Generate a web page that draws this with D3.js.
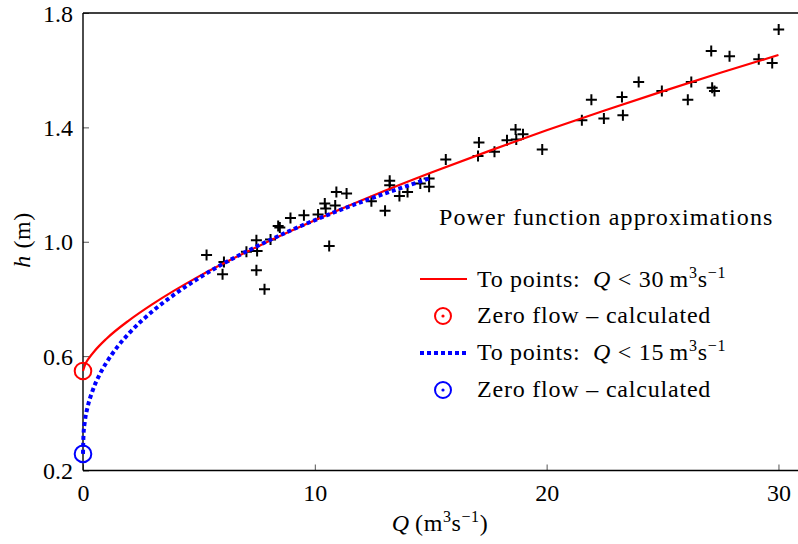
<!DOCTYPE html>
<html>
<head>
<meta charset="utf-8">
<script src="https://cdn.jsdelivr.net/npm/d3@7"></script>
<style>
  html, body { margin: 0; padding: 0; background: #fff; }
  svg { display: block; }
</style>
</head>
<body>
<svg id="chart" width="798" height="544"></svg>
<script>
// ---- data ----
const flowQ = [5.33, 6.02, 6.08, 7.05, 7.48, 7.51, 7.48, 7.83, 8.09, 8.42, 8.49, 8.95, 9.53, 10.14, 10.43, 10.47, 10.88, 10.62, 10.93, 11.37,
  12.44, 13.03, 13.23, 13.23, 13.65, 14.0, 14.55, 14.93, 14.93, 15.65, 17.04, 17.08, 17.75, 18.29, 18.66, 18.69, 18.98, 19.81,
  21.52, 21.93, 22.47, 23.25, 23.29, 23.97, 24.97, 26.09, 26.24, 27.1, 27.14, 27.24, 27.89, 29.15, 29.73, 30.01];
const stageH = [0.954, 0.886, 0.929, 0.965, 1.005, 0.968, 0.900, 0.834, 1.008, 1.055, 1.050, 1.083, 1.093, 1.095, 1.134, 1.116, 1.127, 0.985, 1.174, 1.169,
  1.142, 1.108, 1.213, 1.198, 1.160, 1.174, 1.204, 1.221, 1.192, 1.288, 1.300, 1.347, 1.315, 1.355, 1.393, 1.358, 1.376, 1.323,
  1.425, 1.497, 1.431, 1.506, 1.442, 1.559, 1.527, 1.497, 1.559, 1.667, 1.539, 1.527, 1.649, 1.638, 1.625, 1.742];

const fit30Q = [0, 0.1, 0.25, 0.5, 1, 2, 3, 5, 7.5, 10, 12.5, 15, 17.5, 20, 22.5, 25, 27.5, 30];
const fit30H = [0.548, 0.572, 0.592, 0.618, 0.660, 0.726, 0.782, 0.879, 0.982, 1.075, 1.161, 1.241, 1.317, 1.390, 1.459, 1.526, 1.591, 1.653];

const fit15Q = [0, 0.02, 0.08, 0.2, 0.4, 0.7, 1, 1.5, 2, 3, 4, 5, 6, 7.5, 9, 10.5, 12, 13.5, 15];
const fit15H = [0.258, 0.322, 0.371, 0.422, 0.476, 0.533, 0.576, 0.634, 0.681, 0.757, 0.819, 0.873, 0.921, 0.984, 1.041, 1.092, 1.139, 1.182, 1.223];

const zeroFlowQ = [0, 0];
const zeroFlowH = [0.548, 0.258];

const xTicks = [0, 10, 20, 30];
const yTicks = [0.2, 0.6, 1.0, 1.4, 1.8];
const yTickLabels = ["0.2", "0.6", "1.0", "1.4", "1.8"];

// ---- layout ----
const FONT = "Liberation Serif";
const svg = d3.select("#chart");
const L = 83, R = 797, T = 13, B = 470.5;
const x = d3.scaleLinear().domain([0, 30.8]).range([L, R]);
const y = d3.scaleLinear().domain([0.2, 1.8]).range([B, T]);
const FS = 24;
const SUP = 16;

// axes
const xAxis = d3.axisBottom(x).tickValues(xTicks).tickFormat(d3.format("d")).tickSize(-6).tickSizeOuter(0);
const gx = svg.append("g").attr("transform", `translate(0,${B})`).call(xAxis).attr("font-family", FONT);
gx.select(".domain").remove();
gx.selectAll(".tick line").attr("stroke", "#555").attr("stroke-width", 1);
gx.selectAll(".tick text").attr("font-family", FONT).style("font-family", FONT).attr("font-size", FS).attr("fill", "#000").attr("y", 30).attr("dy", null);

const yAxis = d3.axisLeft(y).tickValues(yTicks).tickFormat((d, i) => yTickLabels[i]).tickSize(-6).tickSizeOuter(0);
const gy = svg.append("g").attr("transform", `translate(${L},0)`).call(yAxis).attr("font-family", FONT);
gy.select(".domain").remove();
gy.selectAll(".tick line").attr("stroke", "#555").attr("stroke-width", 1);
gy.selectAll(".tick text").attr("font-family", FONT).style("font-family", FONT).attr("font-size", FS).attr("fill", "#000").attr("x", -10).attr("dy", "0.34em");

// frame (left, bottom, top)
const frame = svg.append("g").attr("stroke", "#000").attr("stroke-width", 1.4).attr("fill", "none");
frame.append("line").attr("x1", L).attr("x2", L).attr("y1", T).attr("y2", B);
frame.append("line").attr("x1", L).attr("x2", R + 1).attr("y1", B).attr("y2", B);
frame.append("line").attr("x1", L).attr("x2", R + 1).attr("y1", T).attr("y2", T);

function txt(sel) { return sel.attr("font-family", FONT).style("font-family", FONT).attr("font-size", FS).attr("fill", "#000"); }

// axis labels
const xl = txt(svg.append("text")).attr("x", (L + R) / 2).attr("y", 531).attr("text-anchor", "middle").style("letter-spacing", "0.6px");
xl.append("tspan").attr("font-style", "italic").text("Q");
xl.append("tspan").text("\u2009(m");
xl.append("tspan").attr("font-size", SUP).attr("dy", -9).text("3");
xl.append("tspan").attr("dy", 9).text("s");
xl.append("tspan").attr("font-size", SUP).attr("dy", -9).text("\u22121");
xl.append("tspan").attr("dy", 9).text(")");

const yl = txt(svg.append("text")).attr("transform", `translate(30,240) rotate(-90)`).attr("text-anchor", "middle").style("letter-spacing", "0.6px");
yl.append("tspan").attr("font-style", "italic").text("h");
yl.append("tspan").text(" (m)");

// curves
const line = d3.line().x(d => x(d[0])).y(d => y(d[1])).curve(d3.curveMonotoneX);
const d30 = fit30Q.map((q, i) => [q, fit30H[i]]);
const d15 = fit15Q.map((q, i) => [q, fit15H[i]]);

// data points (plus markers)
const pts = svg.append("g");
flowQ.forEach((q, i) => {
  const cx = x(q), cy = y(stageH[i]);
  pts.append("path").attr("d", `M${cx - 5.5},${cy}H${cx + 5.5}M${cx},${cy - 5.5}V${cy + 5.5}`)
    .attr("stroke", "#000").attr("stroke-width", 2).attr("fill", "none");
});

svg.append("path").datum(d30).attr("d", line).attr("fill", "none").attr("stroke", "#ff0000").attr("stroke-width", 2.2);
svg.append("path").datum(d15).attr("d", line).attr("fill", "none").attr("stroke", "#0000ff").attr("stroke-width", 4).attr("stroke-dasharray", "4,3");

const zColors = ["#ff0000", "#0000ff"];
zeroFlowQ.forEach((q, i) => {
  svg.append("circle").attr("cx", x(q)).attr("cy", y(zeroFlowH[i])).attr("r", 8.3)
    .attr("fill", "none").attr("stroke", zColors[i]).attr("stroke-width", 2);
});

// legend
const lg = svg.append("g");
txt(lg.append("text")).attr("x", 439).attr("y", 225).style("letter-spacing", "1.1px").text("Power function approximations");

function mathLabel(yy, n) {
  const t = txt(lg.append("text")).attr("x", 477).attr("y", yy).style("letter-spacing", "0.7px");
  t.append("tspan").text("To points:\u2002");
  t.append("tspan").attr("font-style", "italic").text("Q");
  t.append("tspan").text("\u2005<\u2005" + n + "\u2009m");
  t.append("tspan").attr("font-size", SUP).attr("dy", -9).text("3");
  t.append("tspan").attr("dy", 9).text("s");
  t.append("tspan").attr("font-size", SUP).attr("dy", -9).text("\u22121");
}
function circLabel(yy, cy, col) {
  lg.append("circle").attr("cx", 443).attr("cy", cy).attr("r", 8).attr("fill", "none").attr("stroke", col).attr("stroke-width", 2);
  lg.append("circle").attr("cx", 443).attr("cy", cy).attr("r", 1.6).attr("fill", col);
  txt(lg.append("text")).attr("x", 477).attr("y", yy).style("letter-spacing", "0.8px").text("Zero flow \u2013 calculated");
}
lg.append("line").attr("x1", 420).attr("x2", 467).attr("y1", 279).attr("y2", 279).attr("stroke", "#ff0000").attr("stroke-width", 2.2);
mathLabel(287, 30);
circLabel(323, 316, "#ff0000");
lg.append("line").attr("x1", 420).attr("x2", 467).attr("y1", 353).attr("y2", 353).attr("stroke", "#0000ff").attr("stroke-width", 4).attr("stroke-dasharray", "4,3");
mathLabel(360, 15);
circLabel(397, 390, "#0000ff");
</script>
</body>
</html>
